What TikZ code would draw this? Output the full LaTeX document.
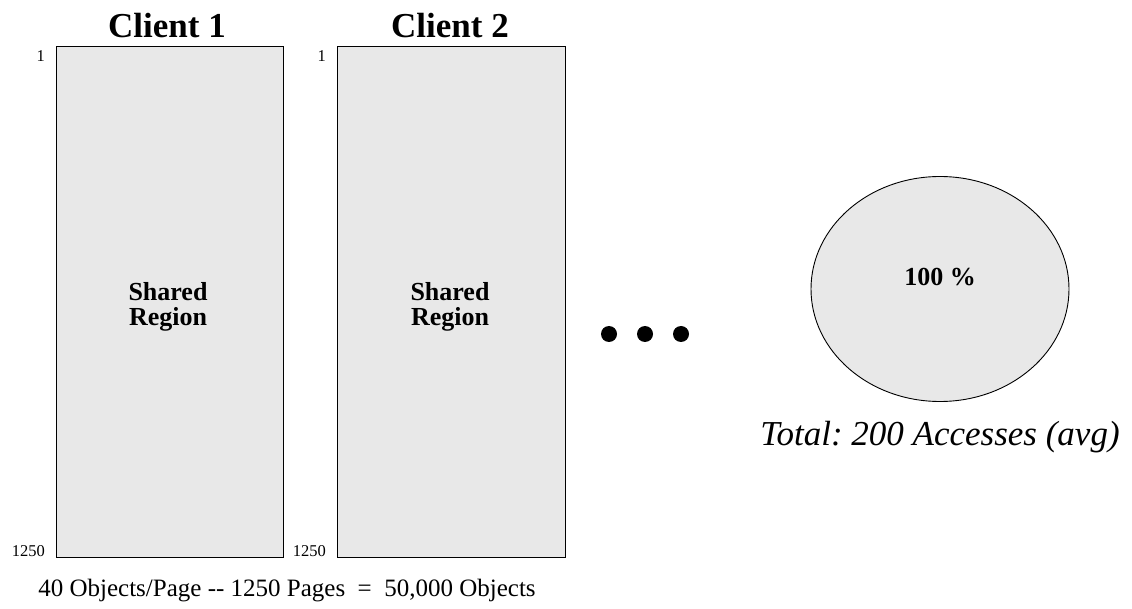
\documentclass[tikz,border=0pt]{standalone}
\usepackage{fontspec}
\setmainfont{Liberation Serif}
\usetikzlibrary{shapes.geometric}
\frenchspacing
\definecolor{fillgray}{HTML}{E8E8E8}
\tikzset{
  region/.style={draw=black, line width=0.9pt, fill=fillgray},
  title/.style={font=\fontsize{35}{40}\selectfont\bfseries, inner sep=0pt},
  inner/.style={font=\fontsize{26}{25}\selectfont\bfseries, align=center, inner sep=0pt},
  idx/.style={font=\fontsize{16.5}{18}\selectfont, inner sep=0pt},
  dot/.style={circle, fill=black, minimum size=16pt, inner sep=0pt},
}
\begin{document}
\begin{tikzpicture}[x=1pt,y=-1pt]
\useasboundingbox (0,0) rectangle (1132,609);
% boxes
\draw[region] (56,46) rectangle (283,557);
\node[inner] (sr1) at (168,307) {Shared\\Region};
\draw[region] (337,46) rectangle (565,557);
\node[inner] (sr2) at (450,307) {Shared\\Region};
% titles
\node[title] (c1) at (167,26) {Client 1};
\node[title] (c2) at (450,26) {Client 2};
% index labels
\node[idx, anchor=east] (a1) at (45,56) {1};
\node[idx, anchor=south east] (b1) at (45,557) {1250};
\node[idx, anchor=east] (a2) at (326,56) {1};
\node[idx, anchor=south east] (b2) at (326,557) {1250};
% dots
\node[dot] (d1) at (609,334) {};
\node[dot] (d2) at (645,334) {};
\node[dot] (d3) at (681,334) {};
% ellipse
\node[ellipse, region, minimum width=258pt, minimum height=225pt, inner sep=0pt] (el) at (940,289) {};
\node[font=\fontsize{26}{28}\selectfont\bfseries, inner sep=0pt] (pct) at (940,277) {100 \%};
\node[font=\fontsize{35}{38}\selectfont\itshape, inner sep=0pt] (tot) at (940,437) {Total: 200 Accesses (avg)};
% bottom text
\node[font=\fontsize{25}{28}\selectfont, inner sep=0pt] (bot) at (287,591) {40 Objects/Page -{}- 1250 Pages \ =\ \ 50,000 Objects};
\end{tikzpicture}
\end{document}
